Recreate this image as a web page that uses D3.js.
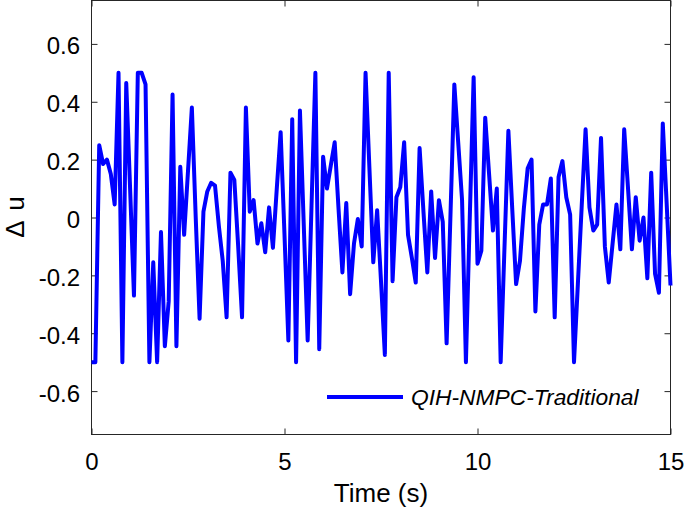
<!DOCTYPE html>
<meta charset="utf-8">
<style>
  body { margin: 0; background: #fff; }
  svg { position: absolute; top: 0; left: 0; }
  text { font-family: 'Liberation Sans', Arial, sans-serif; fill: #000; }
  .tick line { stroke: #262626; }
  .tick text { font-size: 24px; }
  .box { fill: none; stroke: #262626; stroke-width: 1px; }
  .series { fill: none; stroke: #0000ff; stroke-width: 4px; stroke-linejoin: round; }
</style>
<script src="https://d3js.org/d3.v7.min.js"></script>

<svg width="685" height="514"></svg>

<script>
  // sampled control increment, one value every 0.1 s from 0 to 15 s
  var sampleStep = 0.1;
  var deltaU = [
    -0.50, -0.50, 0.25, 0.185, 0.20, 0.15, 0.045, 0.50, -0.50, 0.465,
    0.10, -0.27, 0.50, 0.50, 0.46, -0.50, -0.155, -0.50, -0.05, -0.445,
    -0.29, 0.425, -0.445, 0.175, -0.06, 0.16, 0.38, 0.0, -0.35, 0.02,
    0.09, 0.12, 0.11, -0.03, -0.15, -0.345, 0.155, 0.13, -0.10, -0.345,
    0.38, 0.02, 0.06, -0.09, -0.02, -0.12, 0.035, -0.105, 0.10, 0.295,
    -0.06, -0.425, 0.34, -0.50, 0.37, -0.03, -0.425, 0.04, 0.50, -0.455,
    0.21, 0.10, 0.18, 0.26, 0.03, -0.19, 0.05, -0.265, -0.09, -0.005,
    -0.10, 0.50, 0.17, -0.155, 0.025, -0.22, -0.475, 0.50, -0.22, 0.07,
    0.105, 0.26, -0.06, -0.14, -0.225, 0.24, 0.02, -0.19, 0.09, -0.14,
    0.06, -0.015, -0.435, 0.01, 0.46, 0.26, 0.06, -0.50, 0.0, 0.485,
    -0.16, -0.115, 0.345, 0.15, -0.045, 0.10, -0.50, -0.10, 0.30, 0.03,
    -0.23, -0.15, 0.03, 0.17, 0.20, -0.325, -0.025, 0.045, 0.045, 0.135,
    -0.345, 0.14, 0.195, 0.07, 0.01, -0.50, -0.23, 0.04, 0.305, 0.035,
    -0.045, -0.025, 0.275, -0.10, -0.225, -0.09, 0.045, -0.11, 0.305, 0.10,
    -0.11, 0.07, -0.08, 0.0, -0.21, 0.155, -0.195, -0.26, 0.325, 0.05,
    -0.235
  ];
  var xTicks = [0, 5, 10, 15];
  var yTicks = [-0.6, -0.4, -0.2, 0, 0.2, 0.4, 0.6];
  var seriesName = "QIH-NMPC-Traditional";
  var xTitle = "Time (s)";
  var yTitle = "\u0394 u";

  var svg = d3.select("svg"),
    plotL = 91.5, plotR = 670.5, plotT = 0.5, plotB = 434.5;

  var x = d3.scaleLinear().domain([0, 15]).range([plotL, plotR]);
  var y = d3.scaleLinear().domain([-0.75, 0.75]).range([plotB, plotT]);

  var fmt = function(d) { return d === 0 ? "0" : d.toFixed(1); };

  // axes with inward ticks, mirrored on top and right
  svg.append("g")
    .attr("transform", "translate(0," + plotB + ")")
    .call(d3.axisBottom(x).tickValues(xTicks).tickSizeInner(-6).tickSizeOuter(0).tickPadding(18).tickFormat(d3.format("d")));
  var gy = svg.append("g")
    .attr("transform", "translate(" + plotL + ",0)")
    .call(d3.axisLeft(y).tickValues(yTicks).tickSizeInner(-6).tickSizeOuter(0).tickPadding(11.5).tickFormat(fmt));
  gy.selectAll("text").attr("dy", "0.42em");

  svg.append("g")
    .attr("transform", "translate(0," + plotT + ")")
    .call(d3.axisTop(x).tickValues(xTicks).tickSizeInner(-6).tickSizeOuter(0).tickFormat(""));
  svg.append("g")
    .attr("transform", "translate(" + plotR + ",0)")
    .call(d3.axisRight(y).tickValues(yTicks).tickSizeInner(-6).tickSizeOuter(0).tickFormat(""));

  svg.selectAll(".domain").remove();

  svg.append("rect")
    .attr("class", "box")
    .attr("x", plotL).attr("y", plotT)
    .attr("width", plotR - plotL).attr("height", plotB - plotT);

  var line = d3.line()
    .x(function(d, i) { return x(i * sampleStep); })
    .y(function(d) { return y(d); });

  svg.append("path")
    .datum(deltaU)
    .attr("class", "series")
    .attr("d", line);

  // legend
  var lg = svg.append("g").attr("transform", "translate(327,397)");
  lg.append("line")
    .attr("x1", 0).attr("x2", 76).attr("y1", 0).attr("y2", 0)
    .style("stroke", "#0000ff").style("stroke-width", 4);
  lg.append("text")
    .attr("x", 84).attr("y", 8)
    .style("font-size", "22.8px").style("font-style", "italic")
    .text(seriesName);

  // axis titles
  svg.append("text")
    .attr("x", (plotL + plotR) / 2).attr("y", 502)
    .style("text-anchor", "middle").style("font-size", "26px")
    .text(xTitle);
  svg.append("text")
    .attr("transform", "translate(24,217) rotate(-90)")
    .style("text-anchor", "middle").style("font-size", "26px")
    .style("word-spacing", "4px")
    .text(yTitle);
</script>
